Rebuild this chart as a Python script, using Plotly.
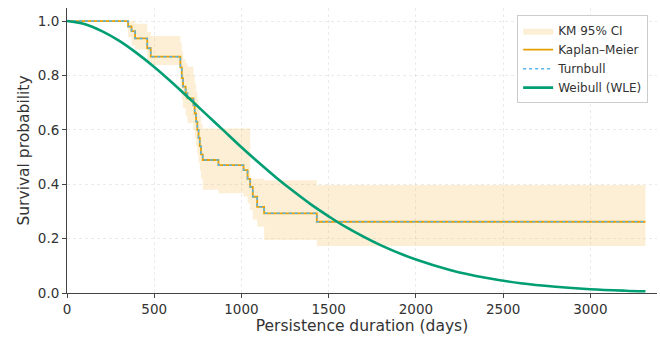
import plotly.graph_objects as go

# Kaplan-Meier step curve
times = [0, 350, 370, 390, 460, 480, 650, 658, 665, 680, 690, 725, 732, 740, 747,
         754, 761, 768, 778, 868, 1012, 1035, 1050, 1065, 1090, 1130, 1432, 3316]
km = [1.0, 0.98, 0.963, 0.936, 0.90, 0.869, 0.83, 0.79, 0.759, 0.735, 0.716, 0.69,
      0.66, 0.63, 0.60, 0.57, 0.54, 0.51, 0.489, 0.47, 0.452, 0.42, 0.39, 0.354,
      0.317, 0.293, 0.262, 0.262]
ci_lo = [1.0, 0.94, 0.91, 0.895, 0.85, 0.838, 0.75, 0.71, 0.68, 0.65, 0.625, 0.60,
         0.57, 0.54, 0.51, 0.48, 0.45, 0.42, 0.38, 0.367, 0.355, 0.33, 0.305, 0.27,
         0.244, 0.195, 0.173, 0.173]
ci_hi = [1.0, 1.0, 1.0, 0.99, 0.96, 0.945, 0.92, 0.89, 0.86, 0.845, 0.832, 0.80,
         0.77, 0.74, 0.71, 0.68, 0.65, 0.62, 0.605, 0.605, 0.605, 0.605, 0.42, 0.42,
         0.42, 0.415, 0.397, 0.397]
turnbull = km

# Weibull (WLE) curve
w_t = [0, 100, 200, 300, 400, 500, 600, 700, 800, 900, 1000, 1100, 1200, 1300,
       1400, 1500, 1600, 1800, 2000, 2200, 2400, 2600, 2800, 3000, 3200, 3316]
w_s = [1.0, 0.989, 0.963, 0.927, 0.882, 0.831, 0.775, 0.716, 0.656, 0.596, 0.536,
       0.479, 0.424, 0.373, 0.325, 0.282, 0.242, 0.175, 0.123, 0.084, 0.056, 0.036,
       0.023, 0.014, 0.0085, 0.0062]

x_ticks = [0, 500, 1000, 1500, 2000, 2500, 3000]
y_ticks = [0.0, 0.2, 0.4, 0.6, 0.8, 1.0]

ORANGE = "#E69F00"
BLUE = "#56B4E9"
GREEN = "#009E73"
FILL = "rgba(240,180,70,0.22)"

fig = go.Figure()
fig.add_trace(go.Scatter(x=times, y=ci_lo, mode="lines", line=dict(width=0, shape="hv"),
                         showlegend=False, hoverinfo="skip"))
fig.add_trace(go.Scatter(x=times, y=ci_hi, mode="lines", line=dict(width=0, shape="hv"),
                         fill="tonexty", fillcolor=FILL, name="KM 95% CI"))
fig.add_trace(go.Scatter(x=times, y=km, mode="lines", line=dict(color=ORANGE, width=1.8, shape="hv"),
                         name="Kaplan–Meier"))
fig.add_trace(go.Scatter(x=times, y=turnbull, mode="lines",
                         line=dict(color=BLUE, width=1.5, shape="hv", dash="3px,3px"),
                         name="Turnbull"))
fig.add_trace(go.Scatter(x=w_t, y=w_s, mode="lines", line=dict(color=GREEN, width=2.6, shape="spline"),
                         name="Weibull (WLE)"))

axis_common = dict(showgrid=True, gridcolor="rgba(0,0,0,0.08)", griddash="dot", gridwidth=1,
                   showline=True, linecolor="#444", linewidth=1, ticks="outside", ticklen=4,
                   tickcolor="#444", zeroline=False,
                   tickfont=dict(family="DejaVu Sans", size=13.5, color="#333"))

fig.update_layout(
    width=660, height=338,
    margin=dict(l=67, r=3, t=8, b=45),
    paper_bgcolor="white", plot_bgcolor="white",
    font=dict(family="DejaVu Sans", color="#333"),
    xaxis=dict(range=[0, 3382], tickvals=x_ticks, ticktext=[str(v) for v in x_ticks],
               title=dict(text="Persistence duration (days)", font=dict(size=15.5), standoff=2),
               **axis_common),
    yaxis=dict(range=[0, 1.048], tickvals=y_ticks, ticktext=[f"{v:.1f}" for v in y_ticks],
               title=dict(text="Survival probability", font=dict(size=15.5), standoff=4),
               **axis_common),
    legend=dict(x=0.985, y=0.975, xanchor="right", yanchor="top", bgcolor="white",
                bordercolor="#ccc", borderwidth=1, font=dict(size=12, color="#333"),
                traceorder="normal", tracegroupgap=0, itemwidth=30),
)

fig.write_html("out.html")
